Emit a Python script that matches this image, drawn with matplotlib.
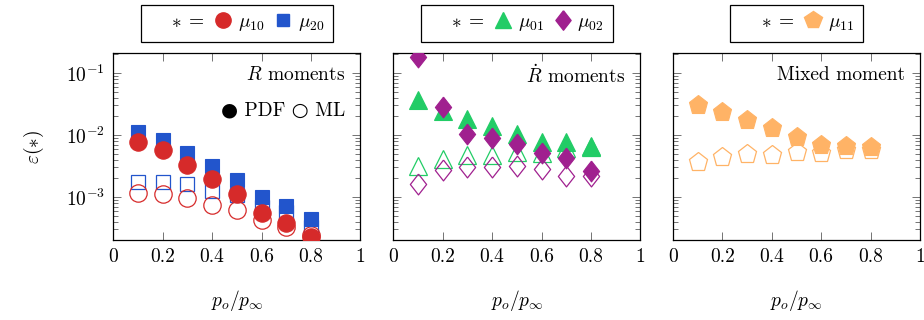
import matplotlib
matplotlib.use("Agg")
import matplotlib.pyplot as plt
from matplotlib.lines import Line2D
import numpy as np

plt.rcParams['mathtext.fontset'] = 'cm'
plt.rcParams['font.family'] = ['cmr10', 'DejaVu Sans']
plt.rcParams['axes.unicode_minus'] = False
plt.rcParams['axes.formatter.use_mathtext'] = True

# ---- data ----
p_ratio = [0.1, 0.2, 0.3, 0.4, 0.5, 0.6, 0.7, 0.8]

mu10_pdf = [7.8e-3, 5.7e-3, 3.3e-3, 1.93e-3, 1.12e-3, 5.5e-4, 3.85e-4, 2.3e-4]
mu20_pdf = [1.13e-2, 8.3e-3, 5.06e-3, 3.16e-3, 1.88e-3, 9.9e-4, 7.2e-4, 4.4e-4]
mu10_ml = [1.15e-3, 1.13e-3, 9.8e-4, 7.4e-4, 6.2e-4, 4.3e-4, 3.25e-4, 2.45e-4]
mu20_ml = [1.77e-3, 1.77e-3, 1.62e-3, 1.27e-3, 1.07e-3, 7.0e-4, 5.8e-4, 3.3e-4]

mu01_pdf = [3.67e-2, 2.4e-2, 1.82e-2, 1.4e-2, 1.05e-2, 7.6e-3, 7.8e-3, 6.6e-3]
mu02_pdf = [0.179, 2.87e-2, 1.03e-2, 8.8e-3, 7.2e-3, 5.1e-3, 4.2e-3, 2.65e-3]
mu01_ml = [3.16e-3, 4.06e-3, 4.8e-3, 4.8e-3, 5.4e-3, 5.2e-3, 6.1e-3, 6.4e-3]
mu02_ml = [1.62e-3, 2.72e-3, 3.07e-3, 3.0e-3, 3.15e-3, 2.87e-3, 2.2e-3, 2.15e-3]

mu11_pdf = [3.05e-2, 2.38e-2, 1.75e-2, 1.32e-2, 9.4e-3, 6.9e-3, 6.6e-3, 6.3e-3]
mu11_ml = [3.7e-3, 4.46e-3, 4.9e-3, 4.8e-3, 5.4e-3, 5.1e-3, 5.7e-3, 5.7e-3]

xticks = [0, 0.2, 0.4, 0.6, 0.8, 1]
xticklabels = ['0', '0.2', '0.4', '0.6', '0.8', '1']
yticks = [1e-3, 1e-2, 1e-1]
yticklabels = [r'$10^{-3}$', r'$10^{-2}$', r'$10^{-1}$']
panel_titles = [r'$R$ moments', r'$\dot{R}$ moments', 'Mixed moment']

RED = '#d62a2a'
BLUE = '#2255cc'
GREEN = '#22cc66'
PURPLE = '#a0208f'
ORANGE = '#ffb366'

diamond = [(0, 1), (0.78, 0), (0, -1), (-0.78, 0), (0, 1)]

W, H = 924, 320
fig = plt.figure(figsize=(W / 100, H / 100), dpi=100)
lefts = [113.3, 393.3, 673.0]
aw, ah = 247, 187
bottom = 80
axes = [fig.add_axes([l / W, bottom / H, aw / W, ah / H]) for l in lefts]

FS = 14

def style(ax, first):
    ax.set_xlim(0, 1)
    ax.set_yscale('log')
    ax.set_ylim(2.03e-4, 0.21)
    ax.set_xticks(xticks)
    ax.set_xticklabels(xticklabels, fontsize=FS)
    ax.set_yticks(yticks)
    if first:
        ax.set_yticklabels(yticklabels, fontsize=FS)
    else:
        ax.set_yticklabels([])
    ax.tick_params(which='both', direction='in', top=True, right=True,
                   color='0.45', width=0.7)
    ax.tick_params(which='major', length=6, pad=6)
    ax.tick_params(which='minor', length=3.5)
    for s in ax.spines.values():
        s.set_linewidth(0.9)
    ax.set_xlabel(r'$p_o/p_\infty$', fontsize=FS, labelpad=16)

def filled(ax, y, m, c, ms, z=3):
    return ax.plot(p_ratio, y, linestyle='none', marker=m, ms=ms,
                   markerfacecolor=c, markeredgecolor=c, markeredgewidth=0.8, zorder=z)[0]

def hollow(ax, y, m, c, ms, z=2):
    return ax.plot(p_ratio, y, linestyle='none', marker=m, ms=ms,
                   markerfacecolor='none', markeredgecolor=c, markeredgewidth=0.9, zorder=z)[0]

def top_legend(ax, handles, labels):
    blank = Line2D([], [], linestyle='none')
    leg = ax.legend([blank] + handles, [r'$*\;=$'] + labels, loc='lower center',
                    bbox_to_anchor=(0.5, 1.059), borderaxespad=0, ncol=len(handles) + 1,
                    fontsize=FS, frameon=True, fancybox=False, framealpha=1,
                    edgecolor='black', handlelength=0.7, handletextpad=0.4,
                    columnspacing=0.6, borderpad=0.45)
    leg.get_frame().set_linewidth(0.9)

# Panel 1
ax = axes[0]
style(ax, True)
hollow(ax, mu20_ml, 's', BLUE, 10.5)
hollow(ax, mu10_ml, 'o', RED, 12.5)
filled(ax, mu20_pdf, 's', BLUE, 10.5)
filled(ax, mu10_pdf, 'o', RED, 12.5, z=4)
ax.set_ylabel(r'$\varepsilon(*)$', fontsize=FS, labelpad=14)
ax.text(0.94, 0.88, panel_titles[0], transform=ax.transAxes, ha='right', va='center', fontsize=FS)
ax.text(0.94, 0.695, '● PDF ○ ML', transform=ax.transAxes, ha='right', va='center',
        fontsize=FS, family=['cmr10', 'DejaVu Sans'])
lh10 = Line2D([], [], linestyle='none', marker='o', ms=11, color=RED)
lh20 = Line2D([], [], linestyle='none', marker='s', ms=9, color=BLUE)
top_legend(ax, [lh10, lh20], [r'$\mu_{10}$', r'$\mu_{20}$'])

# Panel 2
ax = axes[1]
style(ax, False)
hollow(ax, mu01_ml, '^', GREEN, 13)
hollow(ax, mu02_ml, diamond, PURPLE, 15)
filled(ax, mu01_pdf, '^', GREEN, 13)
filled(ax, mu02_pdf, diamond, PURPLE, 15, z=4)
ax.text(0.94, 0.88, panel_titles[1], transform=ax.transAxes, ha='right', va='center', fontsize=FS)
lh01 = Line2D([], [], linestyle='none', marker='^', ms=12, color=GREEN)
lh02 = Line2D([], [], linestyle='none', marker=diamond, ms=14, color=PURPLE)
top_legend(ax, [lh01, lh02], [r'$\mu_{01}$', r'$\mu_{02}$'])

# Panel 3
ax = axes[2]
style(ax, False)
hollow(ax, mu11_ml, 'p', ORANGE, 14)
filled(ax, mu11_pdf, 'p', ORANGE, 14)
ax.text(0.94, 0.88, panel_titles[2], transform=ax.transAxes, ha='right', va='center', fontsize=FS)
lh11 = Line2D([], [], linestyle='none', marker='p', ms=13, color=ORANGE)
top_legend(ax, [lh11], [r'$\mu_{11}$'])

fig.savefig('out.png', dpi=100)
